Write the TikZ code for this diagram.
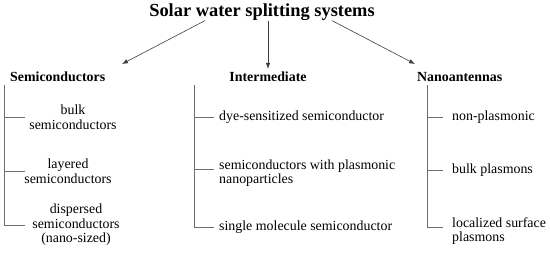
\documentclass[tikz,border=0pt]{standalone}
\usepackage{fontspec}
\setmainfont{Liberation Serif}
\usepackage{tikz}
\usetikzlibrary{arrows.meta,calc,positioning}
\definecolor{lineC}{RGB}{110,110,110}
\definecolor{arrC}{RGB}{60,60,60}

\begin{document}
\begin{tikzpicture}[x=1pt, y=-1pt, inner sep=0pt,
    item/.style={font=\fontsize{13.9}{14.5}\selectfont},
    head/.style={font=\fontsize{13.9}{14.5}\selectfont\bfseries},
    arr/.style={-{Latex[length=6pt,width=4.5pt]}, arrC, line width=0.6pt},
    tree/.style={lineC, line width=0.7pt}]
    \useasboundingbox (0,0) rectangle (550,255);

    % title and the three groups
    \node[font=\fontsize{18.4}{20}\selectfont\bfseries] (title) at (262,12) {Solar water splitting systems};
    \node[head, anchor=west] (semi) at (10,77) {Semiconductors};
    \node[head] (inter) at (268,77) {Intermediate};
    \node[head, anchor=west] (nano) at (417,77) {Nanoantennas};

    \coordinate (semitip) at (122,64);
    \coordinate (nanotip) at (415,64);
    \draw[arr] ([xshift=-57pt]title.south) -- (semitip);
    \draw[arr] ([xshift=6pt]title.south) -- ([yshift=3pt]inter.north);
    \draw[arr] ([xshift=70pt]title.south) -- (nanotip);

    % semiconductors
    \coordinate (semitop) at (4,85);
    \coordinate (semiend) at (25,0);
    \node[item, align=center] (bulk) at (73,117) {bulk\\semiconductors};
    \node[item, align=center] (layer) at (68,171) {layered\\semiconductors};
    \node[item, align=center] (disp) at (76,225) {dispersed\\semiconductors\\(nano-sized)};
    \draw[tree] (semitop) |- (disp.west -| semiend);
    \draw[tree] (semitop |- bulk.west) -- (bulk.west -| semiend);
    \draw[tree] (semitop |- layer.west) -- (layer.west -| semiend);

    % intermediate
    \coordinate (intertop) at (194,85);
    \coordinate (interend) at (214,0);
    \node[item, anchor=west] (dye) at (219,117) {dye-sensitized semiconductor};
    \node[item, anchor=west, align=left] (plas) at (219,173) {semiconductors with plasmonic\\nanoparticles};
    \node[item, anchor=west] (single) at (219,227) {single molecule semiconductor};
    \draw[tree] (intertop) |- (single.west -| interend);
    \draw[tree] (intertop |- dye.west) -- (dye.west -| interend);
    \draw[tree] ([yshift=4pt]intertop |- plas.west) -- ([yshift=4pt]plas.west -| interend);

    % nanoantennas
    \coordinate (nanotop) at (427,85);
    \coordinate (nanoend) at (443,0);
    \node[item, anchor=west] (nonpl) at (452,117) {non-plasmonic};
    \node[item, anchor=west] (bulkpl) at (452,170) {bulk plasmons};
    \node[item, anchor=west, align=left] (local) at (452,231) {localized surface\\plasmons};
    \draw[tree] (nanotop) |- ([yshift=4pt]local.west -| nanoend);
    \draw[tree] (nanotop |- nonpl.west) -- (nonpl.west -| nanoend);
    \draw[tree] (nanotop |- bulkpl.west) -- (bulkpl.west -| nanoend);
\end{tikzpicture}
\end{document}
